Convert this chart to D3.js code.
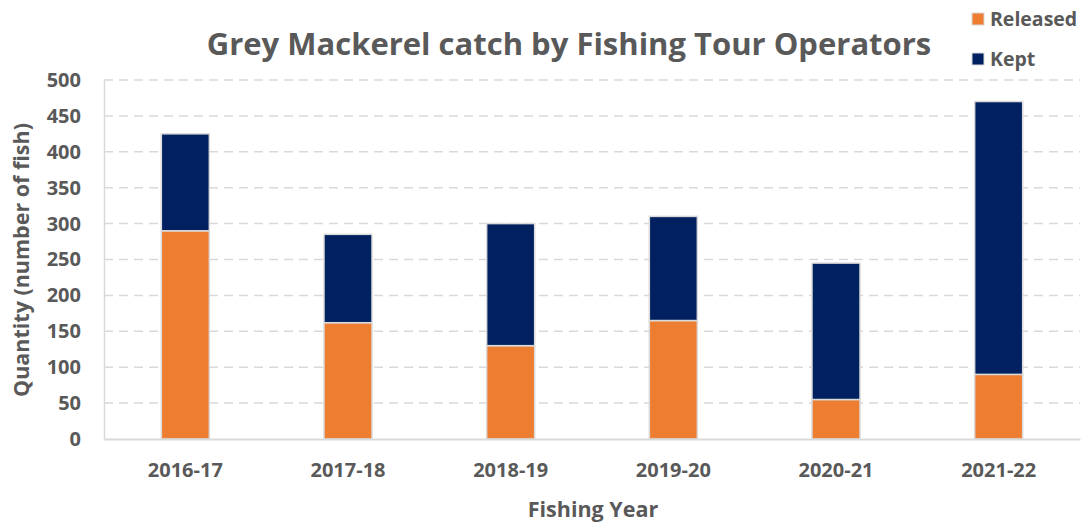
<!DOCTYPE html>
<html>
<head>
<meta charset="utf-8">
<script src="https://cdn.jsdelivr.net/npm/d3@7"></script>
<style>
  html, body { margin: 0; padding: 0; background: #fff; }
  svg { display: block; font-family: "Open Sans", Lato, sans-serif; }
</style>
</head>
<body>
<svg id="chart" width="1090" height="522"></svg>
<script>
// Fishing years and catch counts per outcome
const years = ["2016-17", "2017-18", "2018-19", "2019-20", "2020-21", "2021-22"];
const released = [290, 162, 130, 165, 55, 90];
const kept = [135, 123, 170, 145, 190, 380];
const yTicks = [0, 50, 100, 150, 200, 250, 300, 350, 400, 450, 500];
const seriesNames = ["Released", "Kept"];
const seriesColors = ["#ED7D31", "#002060"];

const svg = d3.select("#chart");
const W = 1090, H = 522;
const margin = { top: 80, right: 10, bottom: 83, left: 104 };
const innerW = W - margin.left - margin.right;
const innerH = H - margin.top - margin.bottom;
const textColor = "#595959";

const rows = years.map((y, i) => ({ year: y, Released: released[i], Kept: kept[i] }));
const stacked = d3.stack().keys(seriesNames)(rows);

const x = d3.scaleBand().domain(years).range([0, innerW]).paddingInner(0.705).paddingOuter(0.3525);
const y = d3.scaleLinear().domain([0, 500]).range([innerH, 0]);
const color = d3.scaleOrdinal().domain(seriesNames).range(seriesColors);

const g = svg.append("g").attr("transform", `translate(${margin.left},${margin.top})`);

// dashed horizontal gridlines
g.append("g")
  .selectAll("line")
  .data(yTicks.filter(t => t > 0))
  .join("line")
  .attr("x1", 0).attr("x2", innerW)
  .attr("y1", d => y(d)).attr("y2", d => y(d))
  .attr("stroke", "#d9d9d9")
  .attr("stroke-width", 1.5)
  .attr("stroke-dasharray", "9,6");

// stacked bars
g.append("g")
  .selectAll("g")
  .data(stacked)
  .join("g")
  .attr("fill", d => color(d.key))
  .selectAll("rect")
  .data(d => d)
  .join("rect")
  .attr("x", d => x(d.data.year))
  .attr("y", d => y(d[1]))
  .attr("width", x.bandwidth())
  .attr("height", d => y(d[0]) - y(d[1]))
  .attr("stroke", "#d9d9d9")
  .attr("stroke-width", 1.5);

// y axis
const yAxis = g.append("g")
  .call(d3.axisLeft(y).tickValues(yTicks).tickSize(0).tickPadding(23))
  .attr("font-family", null)
  .attr("font-size", null);
yAxis.select(".domain").attr("stroke", "#d9d9d9").attr("stroke-width", 1.5);
yAxis.selectAll("text")
  .attr("fill", textColor)
  .attr("font-size", 20)
  .attr("font-weight", "bold");

// x axis
const xAxis = g.append("g")
  .attr("transform", `translate(0,${innerH})`)
  .call(d3.axisBottom(x).tickSize(0).tickPadding(24))
  .attr("font-family", null)
  .attr("font-size", null);
xAxis.select(".domain").attr("stroke", "#d9d9d9").attr("stroke-width", 2);
xAxis.selectAll("text")
  .attr("fill", textColor)
  .attr("font-size", 20)
  .attr("font-weight", "bold");

// title
svg.append("text")
  .attr("x", 569).attr("y", 55)
  .attr("text-anchor", "middle")
  .attr("fill", textColor)
  .attr("font-size", 31)
  .attr("font-weight", "bold")
  .text("Grey Mackerel catch by Fishing Tour Operators");

// axis titles
svg.append("text")
  .attr("x", 593).attr("y", 517)
  .attr("text-anchor", "middle")
  .attr("fill", textColor)
  .attr("font-size", 21.5)
  .attr("font-weight", "bold")
  .text("Fishing Year");

svg.append("text")
  .attr("transform", "translate(29,260) rotate(-90)")
  .attr("text-anchor", "middle")
  .attr("fill", textColor)
  .attr("font-size", 21.5)
  .attr("font-weight", "bold")
  .text("Quantity (number of fish)");

// legend
const legend = svg.append("g").attr("transform", "translate(972,13)");
const item = legend.selectAll("g")
  .data(seriesNames)
  .join("g")
  .attr("transform", (d, i) => `translate(0,${i * 40})`);
item.append("rect")
  .attr("width", 12).attr("height", 12)
  .attr("fill", d => color(d))
  .attr("stroke", "#d9d9d9")
  .attr("stroke-width", 1);
item.append("text")
  .attr("x", 18).attr("y", 12.5)
  .attr("fill", textColor)
  .attr("font-size", 19.5)
  .attr("font-weight", "bold")
  .text(d => d);
</script>
</body>
</html>
